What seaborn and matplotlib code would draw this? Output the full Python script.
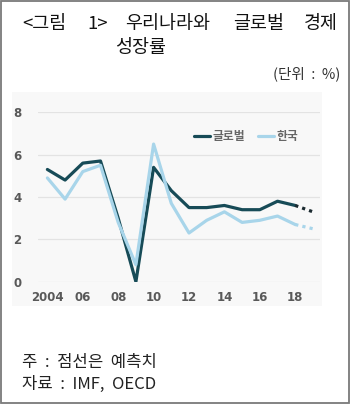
import matplotlib
matplotlib.use("Agg")
import matplotlib.pyplot as plt
import seaborn as sns
import pandas as pd
from matplotlib.patches import Rectangle

years = [2004, 2005, 2006, 2007, 2008, 2009, 2010, 2011, 2012, 2013, 2014, 2015, 2016, 2017, 2018, 2019]
global_vals = [5.3, 4.8, 5.6, 5.7, 3.0, 0.0, 5.4, 4.3, 3.5, 3.5, 3.6, 3.4, 3.4, 3.8, 3.6, 3.3]
korea_vals = [4.9, 3.9, 5.2, 5.5, 2.8, 0.8, 6.5, 3.7, 2.3, 2.9, 3.3, 2.8, 2.9, 3.1, 2.7, 2.5]
forecast_from = 2018
series_names = ["글로벌", "한국"]
xtick_vals = [2004, 2006, 2008, 2010, 2012, 2014, 2016, 2018]
xtick_labels = ["2004", "06", "08", "10", "12", "14", "16", "18"]
ytick_vals = [0, 2, 4, 6, 8]

sns.set_style("white")
plt.rcParams["font.family"] = ["Noto Sans CJK KR", "DejaVu Sans"]

df = pd.DataFrame({
    "year": years * 2,
    "value": global_vals + korea_vals,
    "series": [series_names[0]] * len(years) + [series_names[1]] * len(years),
})
actual = df[df["year"] <= forecast_from]
forecast = df[df["year"] >= forecast_from]

colors = {series_names[0]: "#174b57", series_names[1]: "#a8d5ea"}
dot_colors = {series_names[0]: "#1b2a30", series_names[1]: "#a8d5ea"}

fig = plt.figure(figsize=(3.5, 4.04), dpi=100)
# chart panel background
bg = Rectangle((12 / 350, 1 - 306 / 404), 310 / 350, 214 / 404,
               transform=fig.transFigure, facecolor="#f8f8f8",
               edgecolor="none", zorder=-5)
fig.patches.append(bg)
ax = fig.add_axes([38 / 350, 1 - 281.7 / 404, 282 / 350, 169.4 / 404])
ax.set_zorder(2)
ax.set_facecolor("none")
ax.patch.set_alpha(0)

sns.lineplot(data=actual, x="year", y="value", hue="series", palette=colors,
             linewidth=2.3, ax=ax, legend=True)
for name in series_names:
    sub = forecast[forecast["series"] == name]
    sns.lineplot(data=sub, x="year", y="value", color=dot_colors[name],
                 linewidth=2.3, linestyle=(0, (1, 1.3)), ax=ax, legend=False)

ax.set_xlim(2003.47, 2019.4)
ax.set_ylim(0, 8)
ax.set_xticks(xtick_vals)
ax.set_xticklabels(xtick_labels)
ax.set_yticks(ytick_vals)
ax.set_xlabel("")
ax.set_ylabel("")
ax.grid(axis="y", color="#e3e3e3", linewidth=0.9)
ax.grid(axis="x", visible=False)
for s in ax.spines.values():
    s.set_visible(False)
ax.tick_params(axis="both", length=0, labelsize=8.5, colors="#595959")
ax.tick_params(axis="y", pad=12)
ax.tick_params(axis="x", pad=7)
for lab in ax.get_xticklabels() + ax.get_yticklabels():
    lab.set_fontweight("bold")
    lab.set_family(["DejaVu Sans"])

leg = ax.legend(loc="upper right", bbox_to_anchor=(0.96, 0.96), ncol=2, frameon=False,
                fontsize=8.5, handlelength=1.35, handletextpad=0.2, columnspacing=1.1)
for t in leg.get_texts():
    t.set_color("#666666")
    t.set_fontweight("bold")

title_words = [("<그림", 22), ("1>", 87), ("우리나라와", 125), ("글로벌", 233), ("경제", 304)]
for word, xpx in title_words:
    fig.text(xpx / 350, 1 - 24 / 404, word, fontsize=13.3, va="center", ha="left",
             color="#111111", fontweight="medium")
fig.text(115 / 350, 1 - 48 / 404, "성장률", fontsize=13.3, va="center", ha="left",
         color="#111111", fontweight="medium")
fig.text(340 / 350, 1 - 74 / 404, "(단위  :  %)", fontsize=10.5, va="center", ha="right",
         color="#333333")
fig.text(22 / 350, 1 - 362 / 404, "주  :  점선은  예측치", fontsize=12, va="center",
         ha="left", color="#222222")
fig.text(22 / 350, 1 - 384 / 404, "자료  :  IMF,  OECD", fontsize=12, va="center",
         ha="left", color="#222222")

fig.patches.append(Rectangle((0.003, 0.003), 0.994, 0.994, transform=fig.transFigure,
                             facecolor="none", edgecolor="#7a7a7a", linewidth=1.3))

fig.savefig("out.png", dpi=100)
